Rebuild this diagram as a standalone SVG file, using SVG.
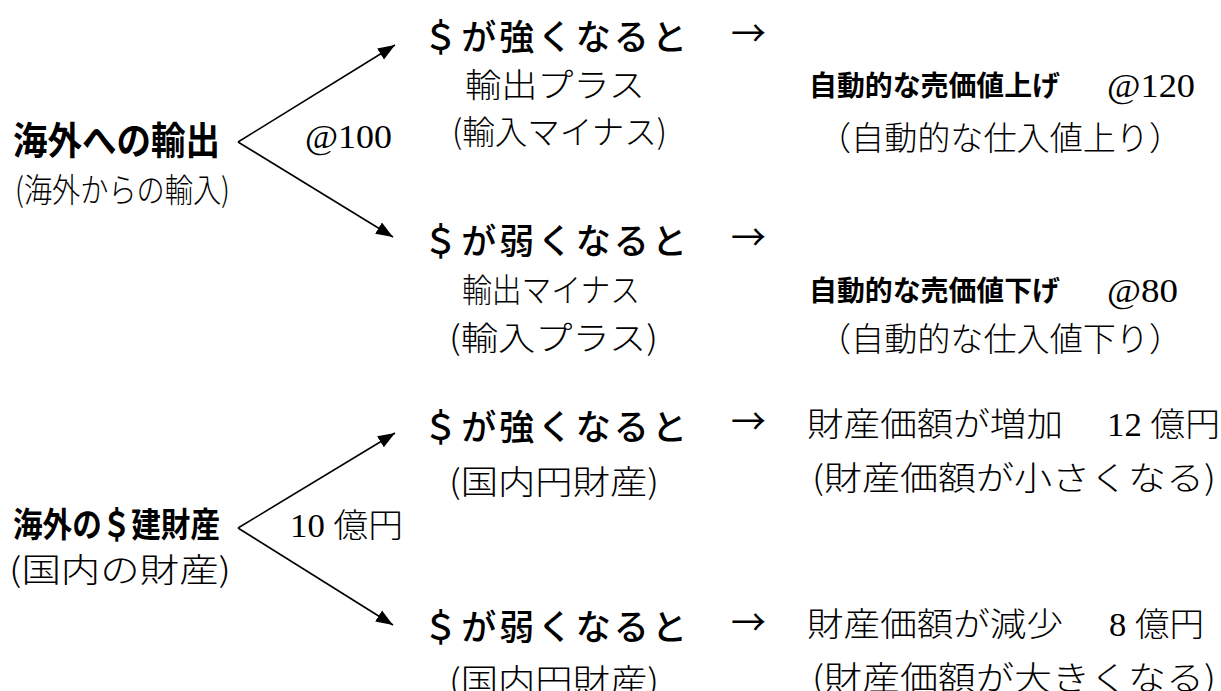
<svg xmlns="http://www.w3.org/2000/svg" width="1221" height="691" viewBox="0 0 1221 691">
<style>
.g{font-family:"Noto Sans CJK JP","Liberation Sans",sans-serif;font-size:35px;font-weight:500;fill:#000}
.gb{font-family:"Noto Sans CJK JP","Liberation Sans",sans-serif;font-weight:700;fill:#000}
.m{font-family:"Noto Sans CJK JP","Liberation Serif",serif;font-size:33px;font-weight:300;fill:#000}
.d{font-family:"Liberation Serif","Noto Sans CJK JP",serif;font-weight:400}
.ar{font-family:"Noto Sans CJK JP",sans-serif;font-size:36px;font-weight:400;fill:#000}
.conn{stroke:#000;stroke-width:1.6;fill:none}
</style>
<defs>
<marker id="ah" markerUnits="userSpaceOnUse" markerWidth="18" markerHeight="14" refX="17" refY="7" orient="auto">
<path d="M0,0.5 L17,7 L0,13.5 z" fill="#000"/>
</marker>
</defs>
<rect width="1221" height="691" fill="#fff"/>
<g id="connectors">
<line class="conn" x1="238" y1="142" x2="395" y2="45" marker-end="url(#ah)"/>
<line class="conn" x1="238" y1="142" x2="393" y2="237" marker-end="url(#ah)"/>
<line class="conn" x1="238" y1="528" x2="395" y2="433" marker-end="url(#ah)"/>
<line class="conn" x1="238" y1="528" x2="393" y2="625" marker-end="url(#ah)"/>
<text class="m d" x="305" y="148" font-size="34" textLength="87" lengthAdjust="spacingAndGlyphs">@100</text>
<text class="m" x="290" y="537" textLength="113" lengthAdjust="spacingAndGlyphs"><tspan class="d">10 </tspan>億円</text>
</g>
<g id="export">
<text class="gb" x="13" y="154" font-size="38" textLength="207" lengthAdjust="spacingAndGlyphs">海外への輸出</text>
<text class="m" x="15" y="202" font-size="31" textLength="215" lengthAdjust="spacingAndGlyphs">(海外からの輸入)</text>
</g>
<g id="strong1">
<text class="g" x="423" y="50" textLength="264">＄が強くなると</text>
<text class="ar" x="731" y="47" textLength="35" lengthAdjust="spacingAndGlyphs">→</text>
<text class="m" x="465" y="97" textLength="180" lengthAdjust="spacingAndGlyphs">輸出プラス</text>
<text class="m" x="452" y="144" textLength="215" lengthAdjust="spacingAndGlyphs">(輸入マイナス)</text>
</g>
<g id="result-up">
<text class="gb" x="809" y="96" font-size="28" textLength="251" lengthAdjust="spacingAndGlyphs">自動的な売価値上げ</text>
<text class="m d" x="1107" y="97" font-size="34" textLength="88" lengthAdjust="spacingAndGlyphs">@120</text>
<text class="m" x="818" y="150" font-size="32" textLength="364" lengthAdjust="spacingAndGlyphs">（自動的な仕入値上り）</text>
</g>
<g id="weak1">
<text class="g" x="423" y="254" textLength="264">＄が弱くなると</text>
<text class="ar" x="731" y="251" textLength="35" lengthAdjust="spacingAndGlyphs">→</text>
<text class="m" x="462" y="302" textLength="178" lengthAdjust="spacingAndGlyphs">輸出マイナス</text>
<text class="m" x="449" y="350" textLength="209" lengthAdjust="spacingAndGlyphs">(輸入プラス)</text>
</g>
<g id="result-down">
<text class="gb" x="809" y="301" font-size="28" textLength="251" lengthAdjust="spacingAndGlyphs">自動的な売価値下げ</text>
<text class="m d" x="1107" y="302" font-size="34" textLength="71" lengthAdjust="spacingAndGlyphs">@80</text>
<text class="m" x="818" y="351" font-size="32" textLength="364" lengthAdjust="spacingAndGlyphs">（自動的な仕入値下り）</text>
</g>
<g id="asset">
<text class="gb" x="13" y="537" font-size="34" textLength="207" lengthAdjust="spacingAndGlyphs">海外の＄建財産</text>
<text class="m" x="9" y="582" font-size="32" textLength="222" lengthAdjust="spacingAndGlyphs">(国内の財産)</text>
</g>
<g id="strong2">
<text class="g" x="423" y="440" textLength="264">＄が強くなると</text>
<text class="ar" x="731" y="435" textLength="35" lengthAdjust="spacingAndGlyphs">→</text>
<text class="m" x="449" y="494" textLength="210" lengthAdjust="spacingAndGlyphs">(国内円財産)</text>
</g>
<g id="value-up">
<text class="m" x="807" y="436" textLength="256" lengthAdjust="spacingAndGlyphs">財産価額が増加</text>
<text class="m" x="1107" y="436" textLength="113" lengthAdjust="spacingAndGlyphs"><tspan class="d">12 </tspan>億円</text>
<text class="m" x="812" y="490" textLength="404" lengthAdjust="spacingAndGlyphs">(財産価額が小さくなる)</text>
</g>
<g id="weak2">
<text class="g" x="423" y="640" textLength="264">＄が弱くなると</text>
<text class="ar" x="731" y="636" textLength="35" lengthAdjust="spacingAndGlyphs">→</text>
<text class="m" x="449" y="693" textLength="210" lengthAdjust="spacingAndGlyphs">(国内円財産)</text>
</g>
<g id="value-down">
<text class="m" x="807" y="636" textLength="256" lengthAdjust="spacingAndGlyphs">財産価額が減少</text>
<text class="m" x="1109" y="636" textLength="95" lengthAdjust="spacingAndGlyphs"><tspan class="d">8 </tspan>億円</text>
<text class="m" x="812" y="690" textLength="404" lengthAdjust="spacingAndGlyphs">(財産価額が大きくなる)</text>
</g>
</svg>
